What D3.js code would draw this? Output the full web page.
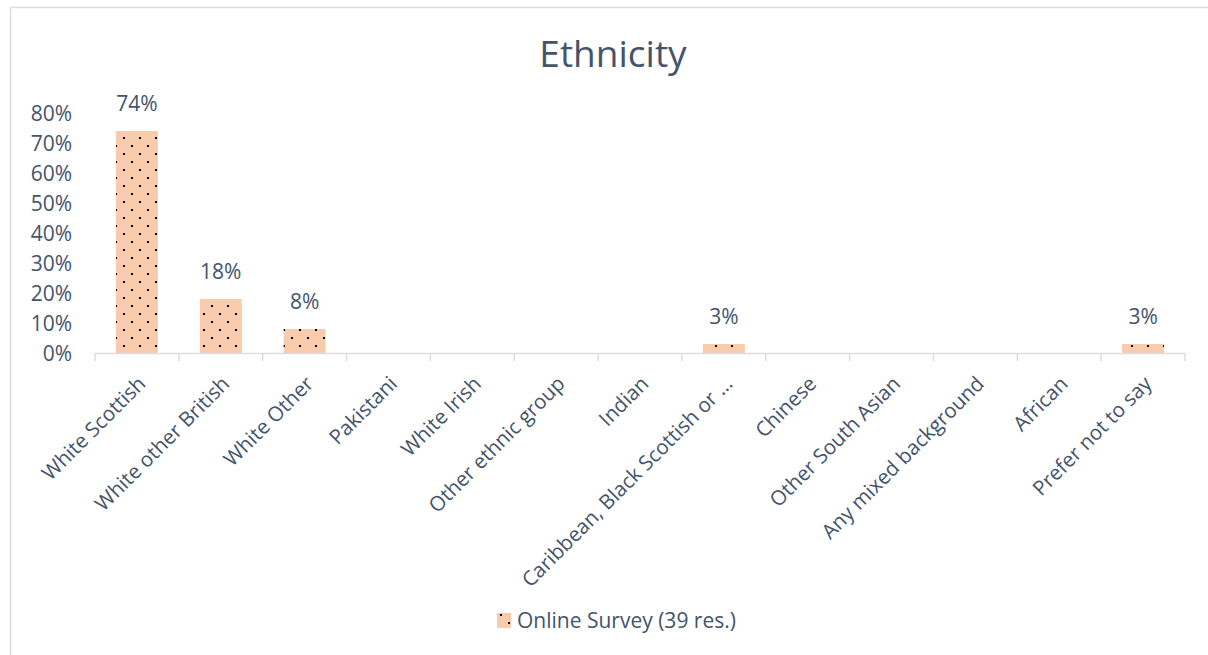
<!DOCTYPE html>
<html>
<head>
<meta charset="utf-8">
<script src="https://cdn.jsdelivr.net/npm/d3@7"></script>
<style>
  html, body { margin: 0; padding: 0; background: #fff; }
  svg { display: block; }
  text { font-family: "Open Sans", Lato, sans-serif; fill: #44546A; }
</style>
</head>
<body>
<svg id="chart" width="1208" height="655"></svg>
<script>
// Ethnicity of online survey respondents
const categories = [
  "White Scottish", "White other British", "White Other", "Pakistani",
  "White Irish", "Other ethnic group", "Indian", "Caribbean, Black Scottish or \u2026",
  "Chinese", "Other South Asian", "Any mixed background", "African", "Prefer not to say"
];
const shares = [0.74, 0.18, 0.08, null, null, null, null, 0.03, null, null, null, null, 0.03];
const yTicks = [0, 0.1, 0.2, 0.3, 0.4, 0.5, 0.6, 0.7, 0.8];
const seriesName = "Online Survey (39 res.)";
const chartTitle = "Ethnicity";

const svg = d3.select("#chart");
const W = 1208, H = 655;
const margin = { left: 95, right: 23, top: 113, bottom: 302 };
const fs = 21;

// chart frame
svg.append("rect")
  .attr("x", 10.5).attr("y", 7.5)
  .attr("width", W + 20).attr("height", H + 20)
  .attr("fill", "#fff").attr("stroke", "#D9DDE3").attr("stroke-width", 1.5);

// dotted fill pattern
const defs = svg.append("defs");
const pat = defs.append("pattern")
  .attr("id", "dots").attr("patternUnits", "userSpaceOnUse")
  .attr("width", 16).attr("height", 16)
  .attr("x", 3).attr("y", 1);
pat.append("rect").attr("width", 16).attr("height", 16).attr("fill", "#F8CBAD");
pat.append("rect").attr("x", 0).attr("y", 0).attr("width", 2).attr("height", 2).attr("fill", "#000");
pat.append("rect").attr("x", 8).attr("y", 8).attr("width", 2).attr("height", 2).attr("fill", "#000");

const x = d3.scaleBand().domain(categories)
  .range([margin.left, W - margin.right]).paddingInner(0.5).paddingOuter(0.25);
const y = d3.scaleLinear().domain([0, 0.8]).range([H - margin.bottom, margin.top]);

// title
svg.append("text")
  .attr("x", 613).attr("y", 67)
  .attr("text-anchor", "middle")
  .style("font-size", "37px")
  .text(chartTitle);

// y axis labels
const yAxis = d3.axisLeft(y).tickValues(yTicks).tickFormat(d3.format(".0%")).tickSize(0).tickPadding(0);
const gy = svg.append("g").attr("transform", `translate(72,0)`).call(yAxis);
gy.select(".domain").remove();
gy.selectAll("text").style("font-size", fs + "px").style("font-family", null)
  .attr("fill", "#44546A").attr("dy", "0.36em");

// bars
const data = categories.map((c, i) => ({ c, v: shares[i] })).filter(d => d.v != null);
svg.append("g").selectAll("rect").data(data).join("rect")
  .attr("x", d => x(d.c))
  .attr("y", d => y(d.v))
  .attr("width", x.bandwidth())
  .attr("height", d => y(0) - y(d.v))
  .attr("fill", "url(#dots)");

// data labels
svg.append("g").selectAll("text").data(data).join("text")
  .attr("x", d => x(d.c) + x.bandwidth() / 2)
  .attr("y", d => y(d.v) - 20)
  .attr("text-anchor", "middle")
  .style("font-size", fs + "px")
  .text(d => d3.format(".0%")(d.v));

// x axis: baseline with ticks between categories
const x0 = margin.left, x1 = W - margin.right, step = (x1 - x0) / categories.length;
const base = y(0);
const gx = svg.append("g");
gx.append("line").attr("x1", x0).attr("x2", x1).attr("y1", base + 0.5).attr("y2", base + 0.5)
  .attr("stroke", "#D9DDE3").attr("stroke-width", 1.5);
gx.selectAll("line.tick").data(d3.range(categories.length + 1)).join("line")
  .attr("class", "tick")
  .attr("x1", i => x0 + i * step).attr("x2", i => x0 + i * step)
  .attr("y1", base).attr("y2", base + 8)
  .attr("stroke", "#D9DDE3").attr("stroke-width", 1.5);

// rotated category labels
gx.selectAll("text").data(categories).join("text")
  .attr("transform", c => `translate(${x(c) + x.bandwidth() / 2 + 10},${base + 32}) rotate(-45)`)
  .attr("text-anchor", "end")
  .style("font-size", "20.5px")
  .text(c => c);

// legend
const lg = svg.append("g").attr("transform", "translate(497,613)");
lg.append("rect").attr("width", 14).attr("height", 15).attr("fill", "url(#dots)");
lg.append("text").attr("x", 20).attr("y", 15).style("font-size", fs + "px").text(seriesName);
</script>
</body>
</html>
